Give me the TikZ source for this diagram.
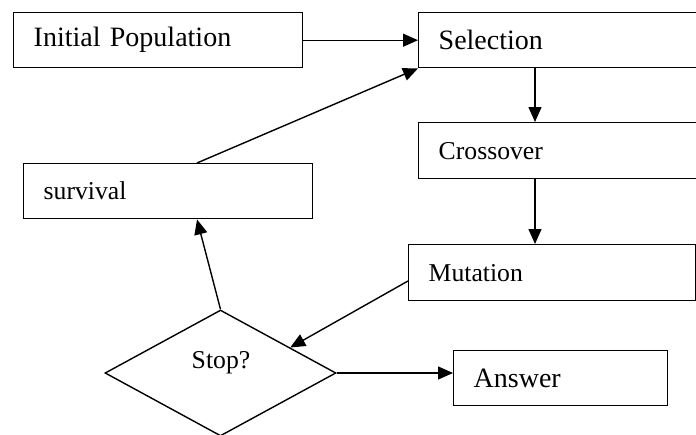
\documentclass[tikz,border=0pt]{standalone}
\usepackage{fontspec}
\setmainfont{Liberation Serif}
\usetikzlibrary{arrows.meta,shapes.geometric,calc}
\tikzset{
  big/.style={font=\fontsize{28}{30}\selectfont},
  small/.style={font=\fontsize{25.7}{28}\selectfont},
  box/.style={draw, line width=1.4pt, anchor=north west, inner xsep=20pt, inner ysep=0pt, align=left},
  arr/.style={line width=1.4pt, -{Triangle[length=15pt,width=13pt]}},
  ln/.style={line width=1.4pt}
}
\begin{document}
\begin{tikzpicture}[x=1pt,y=-1pt]
\useasboundingbox (0,0) rectangle (696,434);
\clip (0,0) rectangle (696,434);
\node[box,big,text width=249pt,minimum height=55pt] (init) at (13,12) {Initial Population};
\node[box,big,text width=262pt,minimum height=55pt] (sel) at (418,12) {Selection};
\node[box,small,text width=262pt,minimum height=56pt] (cross) at (418,122) {Crossover};
\node[box,small,text width=247pt,minimum height=56pt] (mut) at (408,244) {Mutation};
\node[box,small,text width=249pt,minimum height=55pt] (surv) at (23,163) {survival};
\node[box,big,text width=174pt,minimum height=55pt] (ans) at (453,350) {Answer};
\node[draw,line width=1.4pt,diamond,minimum width=231pt,minimum height=126pt,inner sep=0pt] (stop) at (220.5,373) {};
\node[small,anchor=base] (stoptext) at (221,368) {Stop?};
\coordinate (survtop) at ($(surv.north west)+(174,0)$);
\coordinate (survbot) at ($(surv.south west)+(174,0)$);
\coordinate (hit) at ($(stop.north)!0.6!(stop.east)$);
\draw[arr] (init.east) -- (init.east -| sel.west);
\draw[arr] (survtop) -- (sel.south west);
\draw[arr] ($(sel.south west)+(117,0)$) -- ($(cross.north west)+(117,0)$);
\draw[arr] ($(cross.south west)+(117,0)$) -- ($(mut.north west)+(127,0)$);
\draw[arr] ($(mut.north west)+(0,37)$) -- (hit);
\draw[arr] (stop.north) -- (survbot);
\draw[arr] (stop.east) -- (stop.east -| ans.west);
\end{tikzpicture}
\end{document}
